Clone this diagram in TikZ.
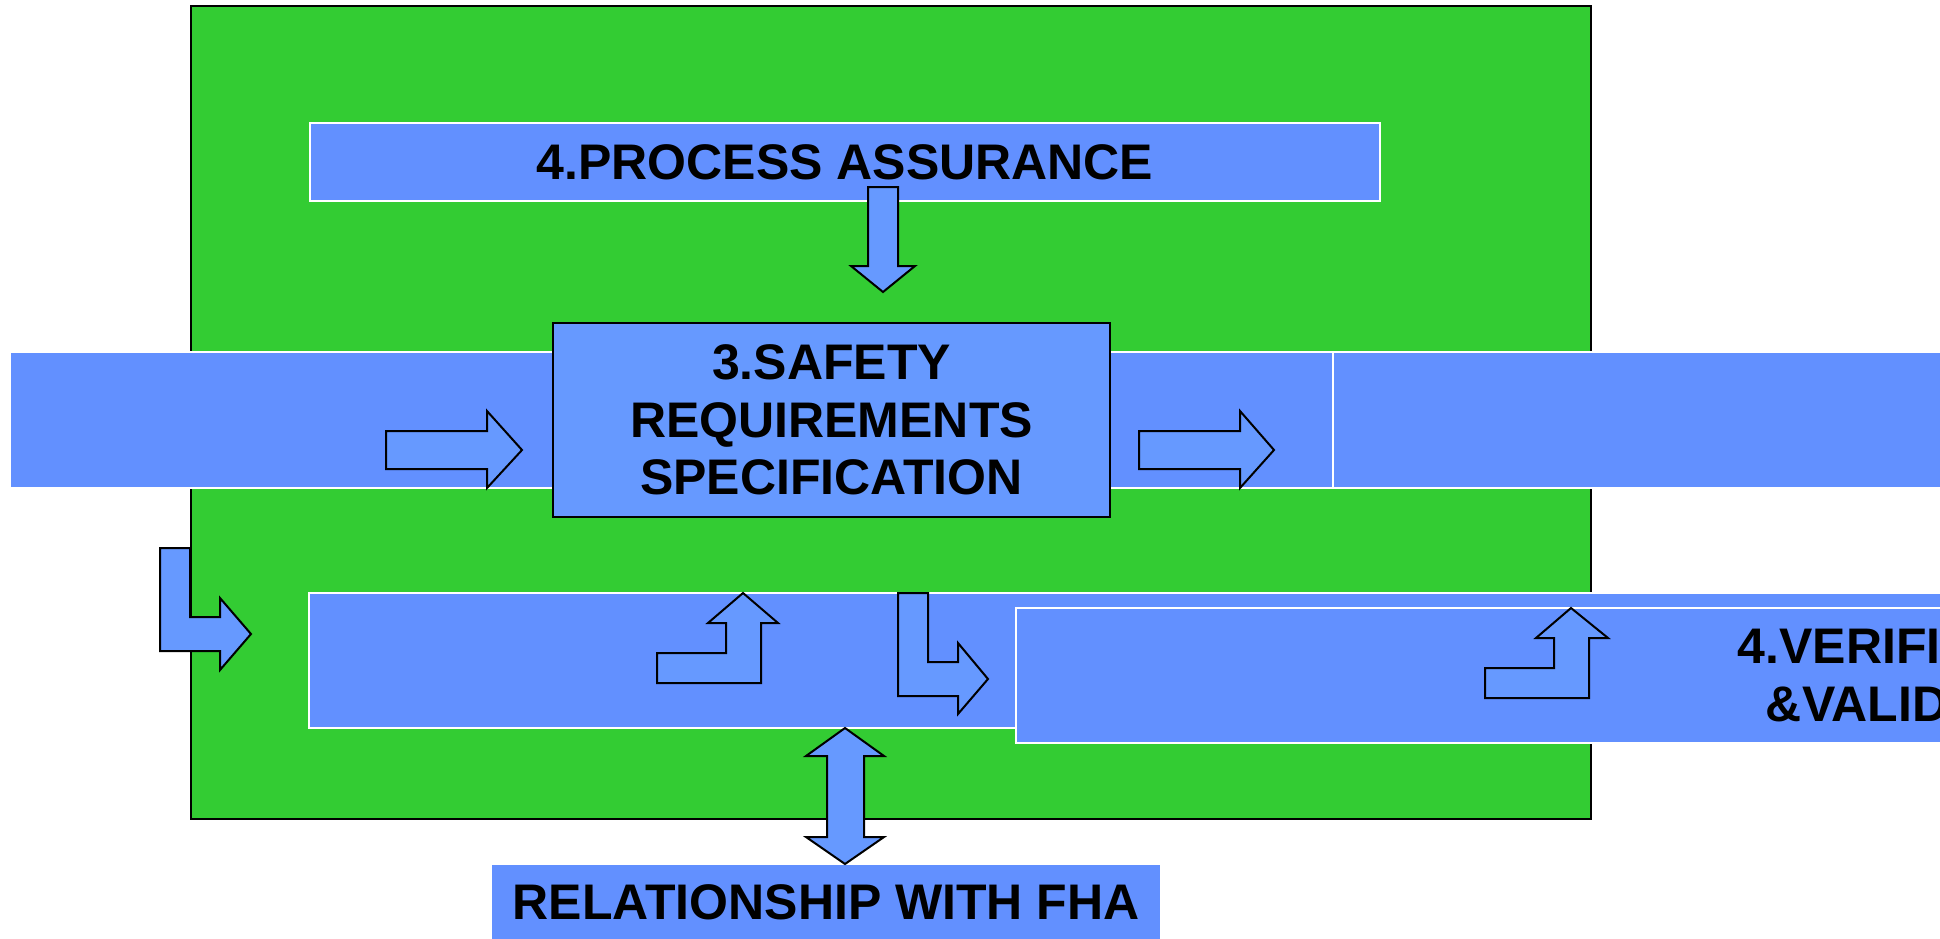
\documentclass[tikz,border=0pt]{standalone}
\usepackage{fontspec}
\setmainfont{Liberation Sans}
\definecolor{panelgreen}{HTML}{33CC33}
\definecolor{bandblue}{HTML}{6290FF}
\definecolor{boxblue}{HTML}{6699FF}
\tikzset{
  band/.style={fill=bandblue, draw=white, line width=2pt, inner sep=0pt, outer sep=0pt, anchor=north west},
  boxtext/.style={font=\fontsize{50}{57.5}\selectfont\bfseries, align=center, text=black},
  blockarrow/.style={fill=boxblue, draw=black, line width=2pt, line join=miter},
}
\begin{document}
\begin{tikzpicture}[x=1pt,y=-1pt]
\useasboundingbox (0,0) rectangle (1940,939);
\clip (0,0) rectangle (1940,939);

% green panel
\node[fill=panelgreen, draw=black, line width=2pt, inner sep=0pt, anchor=north west,
      minimum width=1400pt, minimum height=813pt] (panel) at (190,5) {};

% bands
\node[band, boxtext, minimum width=1070pt, minimum height=78pt] (pa) at (310,123) {4.PROCESS ASSURANCE};
\node[band, minimum width=1323pt, minimum height=136pt] (midl) at (10,352) {};
\node[band, minimum width=700pt, minimum height=136pt] (midr) at (1333,352) {};
\node[band, minimum width=1700pt, minimum height=135pt] (low) at (309,593) {};
\node[band, boxtext, minimum width=1834pt, minimum height=135pt] (vv) at (1016,608) {4.VERIFICATION\\\&VALIDATION};

% central specification box
\node[fill=boxblue, draw=black, line width=2pt, inner sep=0pt, anchor=north west, boxtext,
      minimum width=557pt, minimum height=194pt] (srs) at (552,322) {3.SAFETY\\REQUIREMENTS\\SPECIFICATION};

% FHA box
\node[fill=bandblue, inner sep=0pt, anchor=north west, boxtext,
      minimum width=668pt, minimum height=74pt] (fha) at (492,865) {RELATIONSHIP WITH FHA};

% block arrows
\draw[blockarrow] (868,187) -- (898,187) -- (898,266) -- (915,266) -- (883,292) -- (851,266) -- (868,266) -- cycle;
\draw[blockarrow] (386,431) -- (487,431) -- (487,411) -- (522,450) -- (487,488) -- (487,469) -- (386,469) -- cycle;
\draw[blockarrow] (1139,431) -- (1240,431) -- (1240,411) -- (1274,450) -- (1240,488) -- (1240,469) -- (1139,469) -- cycle;
\draw[blockarrow] (160,548) -- (190,548) -- (190,617) -- (220,617) -- (220,598) -- (251,634) -- (220,670) -- (220,651) -- (160,651) -- cycle;
\draw[blockarrow] (657,653) -- (726,653) -- (726,623) -- (708,623) -- (743,593) -- (778,623) -- (761,623) -- (761,683) -- (657,683) -- cycle;
\draw[blockarrow] (898,593) -- (928,593) -- (928,662) -- (958,662) -- (958,643) -- (988,679) -- (958,714) -- (958,696) -- (898,696) -- cycle;
\draw[blockarrow] (1485,668) -- (1554,668) -- (1554,638) -- (1536,638) -- (1571,608) -- (1608,638) -- (1589,638) -- (1589,698) -- (1485,698) -- cycle;
\draw[blockarrow] (845,728) -- (884,756) -- (864,756) -- (864,837) -- (884,837) -- (845,864) -- (806,837) -- (827,837) -- (827,756) -- (806,756) -- cycle;
\end{tikzpicture}
\end{document}
